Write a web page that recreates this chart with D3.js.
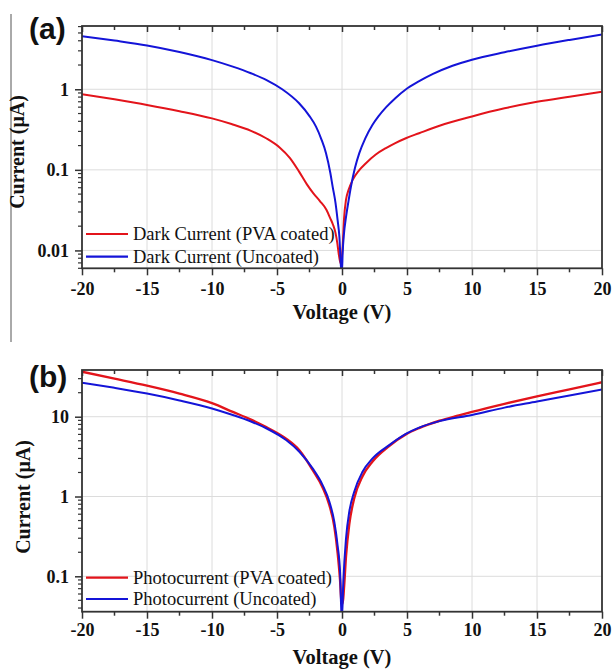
<!DOCTYPE html>
<html>
<head>
<meta charset="utf-8">
<script src="https://cdn.jsdelivr.net/npm/d3@7/dist/d3.min.js"></script>
<style>
  html, body { margin: 0; padding: 0; background: #fff; }
  svg { display: block; }
</style>
</head>
<body>
<svg id="fig" width="613" height="670"></svg>
<script>
// I-V characteristics: dark current (a) and photocurrent (b), log current axis

// Panel (a): dark current
const darkUncoatedV = [-20, -17.5, -15, -12.5, -10, -8.4, -7, -5.8, -4.6, -3.3, -2.5, -2.0, -1.6, -1.23, -0.9, -0.72, -0.5, -0.34, -0.2, -0.08, 0,
  0.05, 0.15, 0.31, 0.5, 0.69, 1.0, 1.33, 1.8, 2.35, 2.8, 3.4, 4.1, 4.9, 5.9, 7, 8.5, 10, 12.5, 15, 17.5, 20];
const darkUncoatedI = [4.55, 4.02, 3.5, 2.9, 2.3, 1.91, 1.58, 1.30, 1.0, 0.67, 0.465, 0.344, 0.243, 0.161, 0.092, 0.062, 0.039, 0.024, 0.0147, 0.0063, 0.0055,
  0.0093, 0.016, 0.026, 0.041, 0.062, 0.106, 0.161, 0.248, 0.363, 0.461, 0.60, 0.776, 0.995, 1.25, 1.55, 1.96, 2.33, 2.88, 3.47, 4.1, 4.8];

const darkCoatedV = [-20, -17.5, -15, -12.5, -10, -8.5, -7, -5.8, -4.8, -4.0, -3.3, -2.7, -2.2, -1.7, -1.2, -0.9, -0.7, -0.5, -0.35, -0.25, -0.15, -0.08,
  0.05, 0.15, 0.31, 0.5, 0.82, 1.3, 1.84, 2.6, 3.38, 4.1, 4.91, 5.93, 7.5, 10, 12.5, 15, 17.5, 20];
const darkCoatedI = [0.87, 0.75, 0.64, 0.535, 0.435, 0.37, 0.305, 0.245, 0.19, 0.14, 0.095, 0.066, 0.051, 0.041, 0.032, 0.025, 0.021, 0.0165, 0.012, 0.009, 0.0073, 0.0068,
  0.011, 0.024, 0.0426, 0.056, 0.075, 0.098, 0.121, 0.155, 0.186, 0.215, 0.247, 0.285, 0.353, 0.46, 0.58, 0.70, 0.81, 0.93];

// Panel (b): photocurrent
const photoUncoatedV = [-20, -17.5, -15, -12.5, -10, -8.4, -7, -5.83, -4.3, -3.28, -2.26, -1.49, -0.97, -0.59, -0.34, -0.15, -0.05, 0,
  0.1, 0.31, 0.56, 0.94, 1.58, 2.35, 3.63, 4.91, 5.93, 7.5, 10, 12.5, 15, 17.5, 20];
const photoUncoatedI = [26.7, 23, 19.5, 16, 12.7, 10.5, 8.7, 7.17, 5.1, 3.64, 2.25, 1.39, 0.86, 0.48, 0.245, 0.114, 0.036, 0.03,
  0.085, 0.30, 0.645, 1.15, 2.04, 3.0, 4.41, 6.1, 7.3, 8.8, 10.5, 13, 15.5, 18.5, 22];

const photoCoatedV = [-20, -17.5, -15, -12.5, -10, -8.4, -7, -5.83, -4.3, -3.28, -2.26, -1.49, -0.97, -0.59, -0.34, -0.15, -0.05,
  0.05, 0.15, 0.31, 0.56, 0.94, 1.58, 2.35, 3.63, 4.91, 5.93, 7.5, 9, 10, 12.5, 15, 17.5, 20];
const photoCoatedI = [36.6, 30, 24.5, 19.5, 14.8, 11.5, 9.2, 7.4, 5.3, 3.8, 2.15, 1.3, 0.78, 0.42, 0.2, 0.09, 0.05,
  0.045, 0.07, 0.18, 0.45, 0.95, 1.8, 2.75, 4.3, 6.0, 7.2, 8.9, 10.4, 11.5, 14.5, 18, 22, 27];

const xTicks = [-20, -15, -10, -5, 0, 5, 10, 15, 20];
const yTicksA = [0.01, 0.1, 1];
const yTicksB = [0.1, 1, 10];
const yLabelsA = ["0.01", "0.1", "1"];
const yLabelsB = ["0.1", "1", "10"];

const legendA = ["Dark Current (PVA coated)", "Dark Current (Uncoated)"];
const legendB = ["Photocurrent (PVA coated)", "Photocurrent (Uncoated)"];

const RED = "#e3141b";
const BLUE = "#1414d8";
const AXIS = "#333";
const GRID = "#dcdcdc";
const SERIF = "'Liberation Serif', 'Times New Roman', serif";

const svg = d3.select("#fig");

// stray frame rule on the far left
svg.append("line")
  .attr("x1", 11).attr("x2", 11).attr("y1", 14).attr("y2", 342)
  .attr("stroke", "#555").attr("stroke-width", 1);

function panel(opts) {
  const { top, bottom, left, right, yDomain, yTicks, yLabels, series, legend, tag, tagY,
          tickLabelDy, xTitleY, yTitleX, yTitleY, legendY, id } = opts;

  const x = d3.scaleLinear().domain([-20, 20]).range([left, right]);
  const y = d3.scaleLog().domain(yDomain).range([bottom, top]);
  const g = svg.append("g");

  // minor x ticks (every 2.5 V)
  const xMinor = d3.range(-20, 20.01, 2.5).filter(v => !xTicks.includes(v));
  // log minor ticks (2..9 of each decade)
  const yMinor = [];
  const lo = Math.floor(Math.log10(yDomain[0])), hi = Math.ceil(Math.log10(yDomain[1]));
  for (let e = lo; e <= hi; e++) {
    for (let m = 2; m <= 9; m++) {
      const v = m * Math.pow(10, e);
      if (v >= yDomain[0] && v <= yDomain[1]) yMinor.push(v);
    }
  }

  // grid
  g.append("g").selectAll("line").data(xTicks.slice(1, -1)).join("line")
    .attr("x1", d => x(d)).attr("x2", d => x(d)).attr("y1", top).attr("y2", bottom)
    .attr("stroke", GRID).attr("stroke-width", 1);
  g.append("g").selectAll("line").data(yTicks).join("line")
    .attr("x1", left).attr("x2", right).attr("y1", d => y(d)).attr("y2", d => y(d))
    .attr("stroke", GRID).attr("stroke-width", 1);

  // curves
  svg.append("clipPath").attr("id", id)
    .append("rect").attr("x", left).attr("y", top).attr("width", right - left).attr("height", bottom - top);
  const line = d3.line().x(d => x(d[0])).y(d => y(d[1])).curve(d3.curveMonotoneX);
  const curves = g.append("g").attr("clip-path", `url(#${id})`);
  series.forEach(s => {
    curves.append("path")
      .datum(d3.zip(s.v, s.i))
      .attr("d", line)
      .attr("fill", "none")
      .attr("stroke", s.color)
      .attr("stroke-width", s.width)
      .attr("stroke-linejoin", "round");
  });

  // bottom axis: outward ticks, hyphen-minus labels
  const bottomAxis = g.append("g").attr("transform", `translate(0,${bottom})`)
    .call(d3.axisBottom(x).tickValues(xTicks).tickSize(7).tickPadding(4).tickFormat(d => String(d)));
  bottomAxis.select(".domain").remove();
  bottomAxis.selectAll(".tick line").attr("stroke", AXIS).attr("stroke-width", 1.5);
  bottomAxis.selectAll(".tick text")
    .attr("font-family", SERIF).attr("font-weight", "bold").attr("font-size", 18)
    .attr("fill", "#111").attr("dy", tickLabelDy);
  g.append("g").selectAll("line").data(xMinor).join("line")
    .attr("x1", d => x(d)).attr("x2", d => x(d)).attr("y1", bottom).attr("y2", bottom + 4)
    .attr("stroke", AXIS).attr("stroke-width", 1.5);

  // top axis: inward ticks
  const topAxis = g.append("g").attr("transform", `translate(0,${top})`)
    .call(d3.axisTop(x).tickValues(xTicks).tickSize(-6).tickFormat(""));
  topAxis.select(".domain").remove();
  topAxis.selectAll(".tick line").attr("stroke", AXIS).attr("stroke-width", 1.5);
  g.append("g").selectAll("line").data(xMinor).join("line")
    .attr("x1", d => x(d)).attr("x2", d => x(d)).attr("y1", top).attr("y2", top + 4)
    .attr("stroke", AXIS).attr("stroke-width", 1.5);

  // left axis: decades with log minor ticks
  const leftAxis = g.append("g").attr("transform", `translate(${left},0)`)
    .call(d3.axisLeft(y).tickValues(yTicks).tickSize(7).tickPadding(6)
      .tickFormat((d, i) => yLabels[i]));
  leftAxis.select(".domain").remove();
  leftAxis.selectAll(".tick line").attr("stroke", AXIS).attr("stroke-width", 1.5);
  leftAxis.selectAll(".tick text")
    .attr("font-family", SERIF).attr("font-weight", "bold").attr("font-size", 18).attr("fill", "#111");
  g.append("g").selectAll("line").data(yMinor).join("line")
    .attr("x1", left - 4).attr("x2", left).attr("y1", d => y(d)).attr("y2", d => y(d))
    .attr("stroke", AXIS).attr("stroke-width", 1.2);

  // frame
  g.append("rect").attr("x", left).attr("y", top).attr("width", right - left).attr("height", bottom - top)
    .attr("fill", "none").attr("stroke", AXIS).attr("stroke-width", 1.8);

  // axis titles
  g.append("text").attr("x", (left + right) / 2).attr("y", xTitleY)
    .attr("text-anchor", "middle").attr("font-family", SERIF).attr("font-weight", "bold")
    .attr("font-size", 20.5).attr("fill", "#111").text("Voltage (V)");
  g.append("text").attr("transform", `translate(${yTitleX},${yTitleY}) rotate(-90)`)
    .attr("text-anchor", "middle").attr("dominant-baseline", "middle")
    .attr("font-family", SERIF).attr("font-weight", "bold")
    .attr("font-size", 20).attr("fill", "#111").text("Current (\u03bcA)");

  // panel tag
  g.append("text").attr("x", 29).attr("y", tagY)
    .attr("font-family", "'Liberation Sans', Arial, sans-serif").attr("font-weight", "bold")
    .attr("font-size", 30).attr("fill", "#111").text(tag);

  // legend
  const lg = g.append("g");
  legend.forEach((label, i) => {
    const ly = legendY[i];
    lg.append("line").attr("x1", 86).attr("x2", 128).attr("y1", ly).attr("y2", ly)
      .attr("stroke", series[i].color).attr("stroke-width", 2.2);
    lg.append("text").attr("x", 133).attr("y", ly).attr("dy", "0.35em")
      .attr("font-family", SERIF).attr("font-size", 18.5).attr("fill", "#111").text(label);
  });
}

panel({
  id: "clipA", top: 26, bottom: 268.3, left: 82, right: 602,
  yDomain: [0.006, 6.1], yTicks: yTicksA, yLabels: yLabelsA,
  series: [
    { v: darkCoatedV, i: darkCoatedI, color: RED, width: 2 },
    { v: darkUncoatedV, i: darkUncoatedI, color: BLUE, width: 2 }
  ],
  legend: legendA, legendY: [234, 256.7],
  tag: "(a)", tagY: 39, tickLabelDy: "0.9em", xTitleY: 319, yTitleX: 19, yTitleY: 152
});

panel({
  id: "clipB", top: 370, bottom: 611.7, left: 82, right: 602,
  yDomain: [0.036, 38.5], yTicks: yTicksB, yLabels: yLabelsB,
  series: [
    { v: photoCoatedV, i: photoCoatedI, color: RED, width: 2.4 },
    { v: photoUncoatedV, i: photoUncoatedI, color: BLUE, width: 2 }
  ],
  legend: legendB, legendY: [577.7, 599],
  tag: "(b)", tagY: 387, tickLabelDy: "0.75em", xTitleY: 664, yTitleX: 25, yTitleY: 497
});
</script>
</body>
</html>
